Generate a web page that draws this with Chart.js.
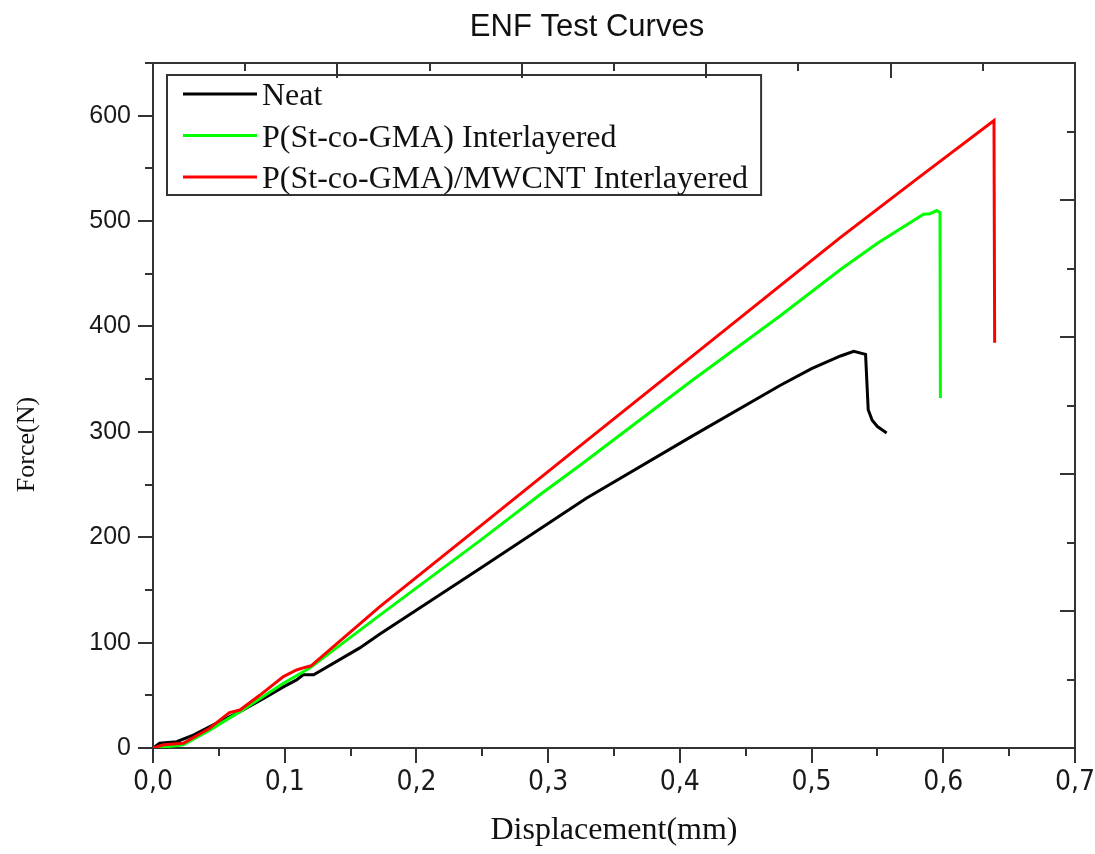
<!DOCTYPE html>
<html>
<head>
<meta charset="utf-8">
<title>ENF Test Curves</title>
<script src="https://cdn.jsdelivr.net/npm/chart.js@4.4.1/dist/chart.umd.min.js"></script>
<style>
  html, body { margin: 0; padding: 0; background: #fff; }
</style>
</head>
<body>
<canvas id="enfChart" width="1095" height="854"></canvas>
<script>
// Load / displacement readings of the three ENF specimens
const neatDisp  = [0, 0.005, 0.018, 0.031, 0.048, 0.066, 0.084, 0.099, 0.109, 0.114, 0.122, 0.157, 0.172, 0.248, 0.329, 0.408, 0.476, 0.5, 0.522, 0.532, 0.541, 0.543, 0.546, 0.55, 0.557];
const neatForce = [0, 4.5, 6, 12.4, 23.5, 34.5, 47, 58, 64.6, 69.4, 69.4, 95, 108, 170, 237, 295, 344, 360, 372, 376.5, 373.5, 321, 311, 305, 299];

const gmaDisp  = [0, 0.003, 0.023, 0.043, 0.066, 0.099, 0.119, 0.172, 0.248, 0.294, 0.324, 0.408, 0.476, 0.522, 0.55, 0.585, 0.59, 0.595, 0.5975, 0.5978];
const gmaForce = [0, 0, 3, 17, 34.5, 61.5, 75.8, 125.8, 196.5, 240.5, 268, 347.6, 410, 454, 479, 506.5, 507, 510, 508, 332];

const cntDisp  = [0, 0.008, 0.023, 0.043, 0.058, 0.066, 0.081, 0.099, 0.109, 0.114, 0.12, 0.172, 0.248, 0.294, 0.324, 0.408, 0.476, 0.522, 0.58, 0.6385, 0.639];
const cntForce = [0, 3, 4.5, 18.7, 33.6, 36, 50, 67.8, 74, 76, 78, 134, 210, 256.4, 286.4, 370.4, 438.5, 484.5, 540, 595.5, 384.5];

const seriesNames  = ['Neat', 'P(St-co-GMA) Interlayered', 'P(St-co-GMA)/MWCNT Interlayered'];
const seriesColors = ['#000000', '#00ff00', '#ff0000'];
const chartTitle = 'ENF Test Curves';

const toPoints = (xs, ys) => xs.map((x, i) => ({ x: x, y: ys[i] }));

const AXIS_COLOR = '#333333';
const SERIF = '"Liberation Serif", "Times New Roman", serif';

// Tick marks: outward on the bottom/left axes, inward on the top/right frame
const frameTicks = {
    id: 'frameTicks',
    afterDraw(chart) {
        const ctx = chart.ctx;
        const area = chart.chartArea;
        ctx.save();
        ctx.strokeStyle = AXIS_COLOR;
        ctx.lineWidth = 2;

        const drawSet = (scale, isMajor, horizontal, base, dir) => {
            scale.ticks.forEach((t, i) => {
                const p = Math.round(scale.getPixelForValue(t.value));
                const len = isMajor(t.value, i) ? 15 : 8;
                ctx.beginPath();
                if (horizontal) {
                    ctx.moveTo(p, base);
                    ctx.lineTo(p, base + dir * len);
                } else {
                    ctx.moveTo(base, p);
                    ctx.lineTo(base + dir * len, p);
                }
                ctx.stroke();
            });
        };

        drawSet(chart.scales.x, v => Math.round(v * 100) % 10 === 0, true, area.bottom, 1);
        drawSet(chart.scales.y, v => Math.round(v) % 100 === 0, false, area.left, -1);
        drawSet(chart.scales.x2, (v, i) => i % 2 === 0, true, area.top, 1);
        drawSet(chart.scales.y2, (v, i) => i % 2 === 0, false, area.right, -1);

        // chart title, set a little left of the plot centre
        ctx.fillStyle = '#111';
        ctx.font = '31px "Liberation Sans", Arial, sans-serif';
        ctx.textAlign = 'center';
        ctx.textBaseline = 'middle';
        ctx.fillText(chartTitle, (area.left + area.right) / 2 - 27, 27);

        // Y axis title
        ctx.font = '26px ' + SERIF;
        ctx.translate(27, area.top + (area.bottom - area.top) * 0.557);
        ctx.rotate(-Math.PI / 2);
        ctx.fillText('Force(N)', 0, 0);
        ctx.restore();
    }
};

// Boxed legend in the upper-left corner of the plot
const boxLegend = {
    id: 'boxLegend',
    afterDatasetsDraw(chart) {
        const ctx = chart.ctx;
        const area = chart.chartArea;
        const sets = chart.data.datasets;
        ctx.save();
        ctx.font = '32px ' + SERIF;
        const x0 = area.left + 14;
        const y0 = area.top + 12;
        const rowH = 41.5;
        const sampleLen = 74;
        const textW = Math.max(...sets.map(d => ctx.measureText(d.label).width));
        const w = 16 + sampleLen + 5 + textW + 13;
        const h = 19 + rowH * (sets.length - 1) + 18;

        ctx.fillStyle = '#fff';
        ctx.fillRect(x0, y0, w, h);
        ctx.strokeStyle = AXIS_COLOR;
        ctx.lineWidth = 2;
        ctx.strokeRect(x0, y0, w, h);

        sets.forEach((d, i) => {
            const cy = y0 + 19 + i * rowH;
            ctx.strokeStyle = d.borderColor;
            ctx.lineWidth = 3;
            ctx.beginPath();
            ctx.moveTo(x0 + 16, cy);
            ctx.lineTo(x0 + 16 + sampleLen, cy);
            ctx.stroke();
            ctx.fillStyle = '#111';
            ctx.textAlign = 'left';
            ctx.textBaseline = 'middle';
            ctx.fillText(d.label, x0 + 16 + sampleLen + 5, cy + 3);
        });
        ctx.restore();
    }
};

const lineSet = (i, xs, ys, order) => ({
    label: seriesNames[i],
    data: toPoints(xs, ys),
    borderColor: seriesColors[i],
    backgroundColor: seriesColors[i],
    borderWidth: 3,
    pointRadius: 0,
    tension: 0,
    fill: false,
    order: order
});

const ctx = document.getElementById('enfChart').getContext('2d');
new Chart(ctx, {
    type: 'line',
    data: {
        datasets: [
            lineSet(0, neatDisp, neatForce, 2),
            lineSet(1, gmaDisp, gmaForce, 1),
            lineSet(2, cntDisp, cntForce, 0)
        ]
    },
    options: {
        responsive: false,
        animation: false,
        layout: { padding: { left: 0, right: 20, top: 63, bottom: 0 } },
        plugins: {
            legend: { display: false },
            tooltip: { enabled: false },
            title: { display: false }
        },
        scales: {
            x: {
                type: 'linear',
                position: 'bottom',
                min: 0,
                max: 0.7,
                afterFit: s => {
                    s.height = 106;
                    // keep the label overhang from shrinking the plot
                    s.paddingLeft = 0;
                    s.paddingRight = 20;
                },
                border: { display: true, color: AXIS_COLOR, width: 2 },
                grid: { drawOnChartArea: false, drawTicks: false },
                ticks: {
                    stepSize: 0.05,
                    autoSkip: false,
                    maxRotation: 0,
                    padding: 18,
                    color: '#1a1a1a',
                    font: { family: '"Liberation Sans Narrow", "DejaVu Sans Condensed", Arial, sans-serif', size: 28 },
                    callback: v => Math.round(v * 100) % 10 === 0 ? v.toFixed(1).replace('.', ',') : ''
                },
                title: {
                    display: true,
                    text: 'Displacement(mm)',
                    color: '#111',
                    font: { family: SERIF, size: 32 },
                    padding: { top: 0, bottom: 4 }
                }
            },
            y: {
                type: 'linear',
                position: 'left',
                min: 0,
                max: 650,
                afterFit: s => { s.width = 153; },
                border: { display: true, color: AXIS_COLOR, width: 2 },
                grid: { drawOnChartArea: false, drawTicks: false },
                ticks: {
                    stepSize: 50,
                    autoSkip: false,
                    padding: 22,
                    color: '#1a1a1a',
                    font: { family: '"Liberation Sans", Arial, sans-serif', size: 25 },
                    callback: v => Math.round(v) % 100 === 0 ? String(v) : ''
                }
            },
            x2: {
                type: 'linear',
                position: 'top',
                min: 0,
                max: 0.7,
                afterFit: s => { s.height = 0; },
                border: { display: true, color: AXIS_COLOR, width: 2 },
                grid: { drawOnChartArea: false, drawTicks: false },
                ticks: { display: false, stepSize: 0.07, autoSkip: false }
            },
            y2: {
                type: 'linear',
                position: 'right',
                min: 0,
                max: 650,
                afterFit: s => { s.width = 0; },
                border: { display: true, color: AXIS_COLOR, width: 2 },
                grid: { drawOnChartArea: false, drawTicks: false },
                ticks: { display: false, stepSize: 65, autoSkip: false }
            }
        }
    },
    plugins: [frameTicks, boxLegend]
});
</script>
</body>
</html>
